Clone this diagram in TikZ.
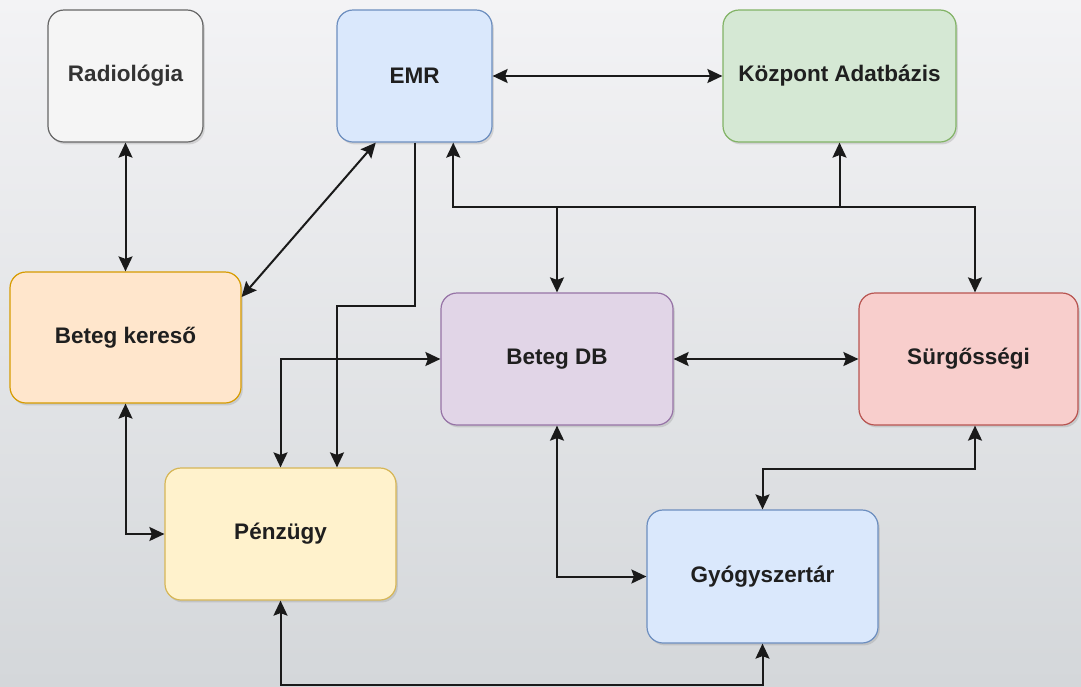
\documentclass[tikz,border=0pt]{standalone}
\usepackage{fontspec}
\setmainfont{Liberation Sans}
\usetikzlibrary{arrows.meta,shadows}

\definecolor{bgtop}{HTML}{F3F3F5}
\definecolor{bgmid}{HTML}{E8E9EB}
\definecolor{bgbot}{HTML}{D4D7DA}
\definecolor{linkc}{HTML}{1A1A1A}
\definecolor{greyfill}{HTML}{F5F5F5}
\definecolor{greyline}{HTML}{666666}
\definecolor{bluefill}{HTML}{DAE8FC}
\definecolor{blueline}{HTML}{6C8EBF}
\definecolor{greenfill}{HTML}{D5E8D4}
\definecolor{greenline}{HTML}{82B366}
\definecolor{orangefill}{HTML}{FFE6CC}
\definecolor{orangeline}{HTML}{D79B00}
\definecolor{purplefill}{HTML}{E1D5E7}
\definecolor{purpleline}{HTML}{9673A6}
\definecolor{redfill}{HTML}{F8CECC}
\definecolor{redline}{HTML}{B85450}
\definecolor{yellowfill}{HTML}{FFF2CC}
\definecolor{yellowline}{HTML}{D6B656}

\tikzset{
  box/.style n args={2}{draw=#2, fill=#1, line width=1.2pt, rounded corners=16pt,
    inner sep=0pt, align=center, font=\fontsize{22.5}{27}\selectfont\bfseries,
    text=black!88, drop shadow={shadow xshift=1.8pt, shadow yshift=-2.4pt, opacity=0.25}},
  link/.style={draw=linkc, line width=2pt,
    {Stealth[length=15pt,width=14pt,inset=2.5pt]}-{Stealth[length=15pt,width=14pt,inset=2.5pt]}},
  onlyend/.style={draw=linkc, line width=2pt, -{Stealth[length=15pt,width=14pt,inset=2.5pt]}},
}

\begin{document}
\begin{tikzpicture}[x=1pt,y=-1pt]
  % canvas and soft background
  \useasboundingbox (0,0) rectangle (1081,686);
  \shade[top color=bgtop, middle color=bgmid, bottom color=bgbot] (0,0) rectangle (1081,686);

  % systems
  \node[box={greyfill}{greyline}, minimum width=155pt, minimum height=132pt, text=black!80] (rad) at (125.5,76) {Radiológia};
  \node[box={bluefill}{blueline}, minimum width=155pt, minimum height=132pt] (emr) at (414.5,76) {EMR};
  \node[box={greenfill}{greenline}, minimum width=233pt, minimum height=132pt] (kozp) at (839.5,76) {Központ Adatbázis};
  \node[box={orangefill}{orangeline}, minimum width=231pt, minimum height=131pt] (kereso) at (125.5,337.5) {Beteg kereső};
  \node[box={purplefill}{purpleline}, minimum width=232pt, minimum height=132pt] (betegdb) at (557,359) {Beteg DB};
  \node[box={redfill}{redline}, minimum width=219pt, minimum height=132pt] (surg) at (968.5,359) {Sürgősségi};
  \node[box={yellowfill}{yellowline}, minimum width=231pt, minimum height=132pt] (penz) at (280.5,534) {Pénzügy};
  \node[box={bluefill}{blueline}, minimum width=231pt, minimum height=133pt] (gyogy) at (762.5,576.5) {Gyógyszertár};

  % helper points on box borders
  \coordinate (busy) at (0,207);
  \coordinate (emrD) at ([xshift=-38.75pt]emr.south);
  \coordinate (emrB) at ([xshift=38.75pt]emr.south);
  \coordinate (surgT) at ([xshift=6.5pt]surg.north);
  \coordinate (surgB) at ([xshift=6.5pt]surg.south);
  \coordinate (penzT) at ([xshift=56.5pt]penz.north);

  % connections
  \draw[link] (rad) -- (kereso);
  \draw[link] (emrD) -- ([yshift=40.5pt]kereso.east);
  \draw[link] (emr) -- (kozp);
  \draw[onlyend] (emr.south) -- ++(0,163) -| (penzT);
  \draw[link] (betegdb.west) -| (penz.north);
  \draw[link] (kereso.south) |- (penz.west);
  \draw[link] (penz.south) -- ++(0,84) -| (gyogy.south);
  \draw[link] (emrB) |- (busy -| surgT) -- (surgT);
  \draw[onlyend] (busy -| betegdb.north) -- (betegdb.north);
  \draw[onlyend] (busy -| kozp.south) -- (kozp.south);
  \draw[link] (betegdb) -- (surg);
  \draw[link] (surgB) -- ++(0,43) -| (gyogy.north);
  \draw[link] (betegdb.south) |- (gyogy.west);
\end{tikzpicture}
\end{document}
